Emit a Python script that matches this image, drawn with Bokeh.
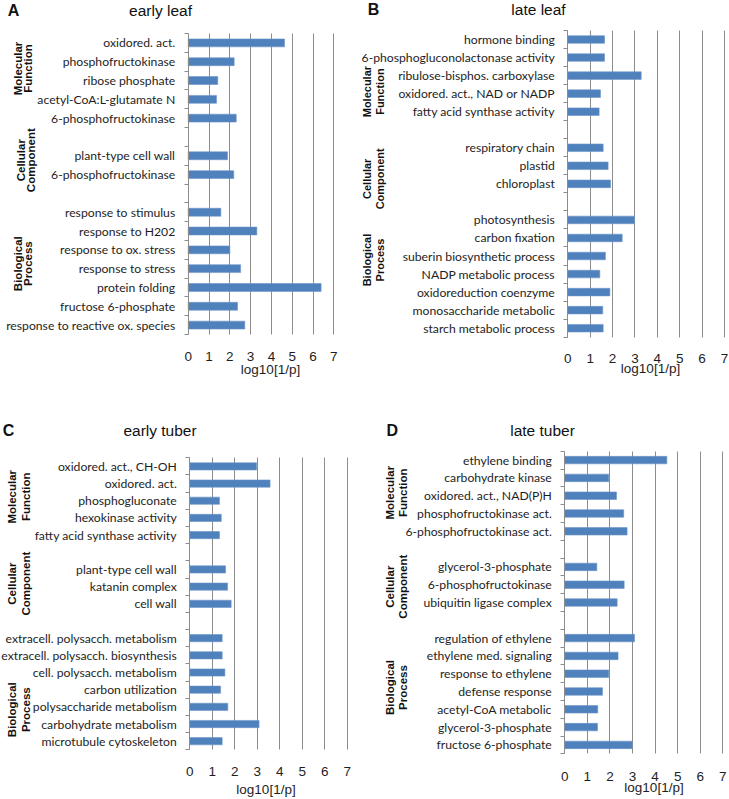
import math
from bokeh.plotting import figure
from bokeh.models import Range1d, FixedTicker, Label, Grid
from bokeh.layouts import row, column
from bokeh.embed import file_html
from bokeh.resources import INLINE

# ---------------- data ----------------
group_names = [["Molecular", "Function"], ["Cellular", "Component"], ["Biological", "Process"]]
x_ticks = [0, 1, 2, 3, 4, 5, 6, 7]
x_title = "log10[1/p]"

# A  early leaf
a_mf_cats = ["oxidored. act.", "phosphofructokinase", "ribose phosphate",
             "acetyl-CoA:L-glutamate N", "6-phosphofructokinase"]
a_mf_vals = [4.63, 2.21, 1.42, 1.36, 2.31]
a_cc_cats = ["plant-type cell wall", "6-phosphofructokinase"]
a_cc_vals = [1.89, 2.19]
a_bp_cats = ["response to stimulus", "response to H202", "response to ox. stress",
             "response to stress", "protein folding", "fructose 6-phosphate",
             "response to reactive ox. species"]
a_bp_vals = [1.57, 3.30, 2.00, 2.52, 6.39, 2.37, 2.72]

# B  late leaf
b_mf_cats = ["hormone binding", "6-phosphogluconolactonase activity",
             "ribulose-bisphos. carboxylase", "oxidored. act., NAD or NADP",
             "fatty acid synthase activity"]
b_mf_vals = [1.64, 1.64, 3.28, 1.46, 1.40]
b_cc_cats = ["respiratory chain", "plastid", "chloroplast"]
b_cc_vals = [1.58, 1.80, 1.91]
b_bp_cats = ["photosynthesis", "carbon fixation", "suberin biosynthetic process",
             "NADP metabolic process", "oxidoreduction coenzyme",
             "monosaccharide metabolic", "starch metabolic process"]
b_bp_vals = [2.98, 2.43, 1.68, 1.43, 1.88, 1.56, 1.58]

# C  early tuber
c_mf_cats = ["oxidored. act., CH-OH", "oxidored. act.", "phosphogluconate",
             "hexokinase activity", "fatty acid synthase activity"]
c_mf_vals = [2.97, 3.57, 1.32, 1.40, 1.32]
c_cc_cats = ["plant-type cell wall", "katanin complex", "cell wall"]
c_cc_vals = [1.59, 1.68, 1.84]
c_bp_cats = ["extracell. polysacch. metabolism", "extracell. polysacch. biosynthesis",
             "cell. polysacch. metabolism", "carbon utilization",
             "polysaccharide metabolism", "carbohydrate metabolism",
             "microtubule cytoskeleton"]
c_bp_vals = [1.44, 1.44, 1.56, 1.37, 1.69, 3.08, 1.44]

# D  late tuber
d_mf_cats = ["ethylene binding", "carbohydrate kinase", "oxidored. act., NAD(P)H",
             "phosphofructokinase act.", "6-phosphofructokinase act."]
d_mf_vals = [4.52, 1.95, 2.29, 2.61, 2.76]
d_cc_cats = ["glycerol-3-phosphate", "6-phosphofructokinase", "ubiquitin ligase complex"]
d_cc_vals = [1.42, 2.63, 2.32]
d_bp_cats = ["regulation of ethylene", "ethylene med. signaling", "response to ethylene",
             "defense response", "acetyl-CoA metabolic", "glycerol-3-phosphate",
             "fructose 6-phosphate"]
d_bp_vals = [3.09, 2.36, 1.95, 1.67, 1.46, 1.45, 2.98]

# ---------------- style ----------------
BAR = "#4F81BD"
GRID = "#8c8c8c"
TXT = "#1e1e1e"
CAT_FONT = "Lato"
SANS = "Liberation Sans"
HAS_CROSS = "cross_bounds" in Grid.properties()


def build(letter, title, groups, lay):
    cats, vals, centers = [], [], []
    gcenters = []
    slot = 0
    for gi, (gc, gv) in enumerate(groups):
        if gi > 0:
            slot += 1
        start = slot
        for c, v in zip(gc, gv):
            cats.append(c)
            vals.append(v)
            centers.append(slot + 0.5)
            slot += 1
        gcenters.append((start + slot) / 2.0)
    n = slot

    W, H = lay["W"], lay["H"]
    pl, pr, st, sb = lay["pl"], lay["pr"], lay["st"], lay["sb"]
    pxu = (pr - pl) / 7.0
    spx = (sb - st) / float(n)
    x_range = Range1d(-pl / pxu, 7 + (W - pr) / pxu)
    y_range = Range1d(n + (H - sb) / spx, -st / spx)

    p = figure(width=W, height=H, x_range=x_range, y_range=y_range,
               output_backend="svg", toolbar_location=None,
               min_border_left=0, min_border_right=0,
               min_border_top=0, min_border_bottom=0)
    p.outline_line_color = None
    p.background_fill_color = "white"
    p.border_fill_color = "white"

    p.hbar(y=centers, left=0, right=vals, height=0.42,
           fill_color=BAR, line_color="#6b95c8", line_width=0.6)

    # y axis pinned at x = 0: labels at slot centres, tick marks at boundaries
    ya = p.yaxis[0]
    ya.fixed_location = 0
    ya.bounds = (0, n)
    ya.ticker = FixedTicker(ticks=centers, minor_ticks=list(range(n + 1)))
    ya.major_label_overrides = {c: lab for c, lab in zip(centers, cats)}
    ya.major_tick_out = 0
    ya.major_tick_in = 0
    ya.minor_tick_out = 4
    ya.minor_tick_in = 0
    ya.minor_tick_line_color = GRID
    ya.axis_line_color = GRID
    ya.major_label_standoff = lay["std"]
    ya.major_label_text_font = CAT_FONT
    ya.major_label_text_font_size = "12.2px"
    ya.major_label_text_color = TXT

    # x axis pinned at the bottom of the bars
    xa = p.xaxis[0]
    xa.fixed_location = n
    xa.bounds = (0, 7)
    xa.ticker = FixedTicker(ticks=x_ticks)
    xa.axis_line_color = None
    xa.major_tick_line_color = None
    xa.minor_tick_line_color = None
    xa.major_label_standoff = lay["xstd"]
    xa.major_label_text_font = SANS
    xa.major_label_text_font_size = "13.5px"
    xa.major_label_text_color = TXT

    p.ygrid.visible = False
    p.xgrid.ticker = FixedTicker(ticks=x_ticks)
    p.xgrid.grid_line_color = GRID
    if HAS_CROSS:
        p.xgrid.cross_bounds = (0, n)
    else:
        p.xgrid.visible = False
        p.segment(x0=x_ticks, x1=x_ticks, y0=[0] * len(x_ticks), y1=[n] * len(x_ticks),
                  line_color=GRID, line_width=1)

    # x axis title
    ax_x, ax_y = lay["axt"]
    p.add_layout(Label(x=3.5, y=n, x_offset=ax_x - (pl + pr) / 2.0, y_offset=sb - ax_y,
                       text=x_title, text_align="center", text_baseline="middle",
                       text_font=SANS, text_font_size="13.5px", text_color=TXT))

    # title and panel letter (positions given in canvas pixels)
    tx, ty = lay["title"]
    lx, ly = lay["letter"]
    p.add_layout(Label(x=0, y=0, x_offset=tx - pl, y_offset=st - ty, text=title,
                       text_align="center", text_baseline="middle",
                       text_font=SANS, text_font_size="15.5px", text_color="#111111"))
    p.add_layout(Label(x=0, y=0, x_offset=lx - pl, y_offset=st - ly, text=letter,
                       text_align="center", text_baseline="middle",
                       text_font=SANS, text_font_style="bold",
                       text_font_size="16px", text_color="#111111"))

    # group labels (two rotated lines each)
    for gi, gcen in enumerate(gcenters):
        l1, l2 = group_names[gi]
        gx1, gx2 = lay["gx"][gi]
        gy = lay["gy"][gi]
        for txt, gx in ((l1, gx1), (l2, gx2)):
            p.add_layout(Label(x=0, y=gcen, x_offset=gx - pl, y_offset=-gy, text=txt,
                               angle=math.pi / 2, text_align="center",
                               text_baseline="middle", text_font=SANS,
                               text_font_style="bold", text_font_size=lay["gfs"],
                               text_color="#111111"))
    return p


# all positions in canvas pixels of each figure
# left column figures span page x 0-358, right column 358-728
lay_a = dict(W=358, H=398, pl=187.7, pr=333.3, st=33, sb=334, std=9, xstd=11,
             axt=(270, 368.5), title=(160, 10), letter=(13, 10), gfs="11.5px",
             gx=[(17, 27), (20, 30), (17, 27)], gy=[-12, -5, -5])
lay_b = dict(W=370, H=398, pl=209.3, pr=366, st=30, sb=336.7, std=9, xstd=11,
             axt=(292, 368), title=(180, 9), letter=(15, 9), gfs="11px",
             gx=[(8, 21), (8, 21), (8, 21)], gy=[16, 13, -14])
lay_c = dict(W=358, H=400, pl=189.3, pr=346.7, st=59.3, sb=351.3, std=9, xstd=11,
             axt=(265.5, 391), title=(159.5, 32), letter=(8, 32), gfs="11.5px",
             gx=[(11, 25), (11, 25), (11, 25)], gy=[-4, -3, 20])
lay_d = dict(W=370, H=400, pl=206.3, pr=364.3, st=52.7, sb=355.3, std=9, xstd=12,
             axt=(295.5, 389), title=(184, 32), letter=(33.7, 32), gfs="11.5px",
             gx=[(31, 44), (31, 44), (31, 44)], gy=[-3, 2, -4])

pa = build("A", "early leaf", [(a_mf_cats, a_mf_vals), (a_cc_cats, a_cc_vals), (a_bp_cats, a_bp_vals)], lay_a)
pb = build("B", "late leaf", [(b_mf_cats, b_mf_vals), (b_cc_cats, b_cc_vals), (b_bp_cats, b_bp_vals)], lay_b)
pc = build("C", "early tuber", [(c_mf_cats, c_mf_vals), (c_cc_cats, c_cc_vals), (c_bp_cats, c_bp_vals)], lay_c)
pd = build("D", "late tuber", [(d_mf_cats, d_mf_vals), (d_cc_cats, d_cc_vals), (d_bp_cats, d_bp_vals)], lay_d)

layout = column(row(pa, pb, spacing=0), row(pc, pd, spacing=0), spacing=0)

open("out.html", "w").write(file_html(layout, INLINE))
